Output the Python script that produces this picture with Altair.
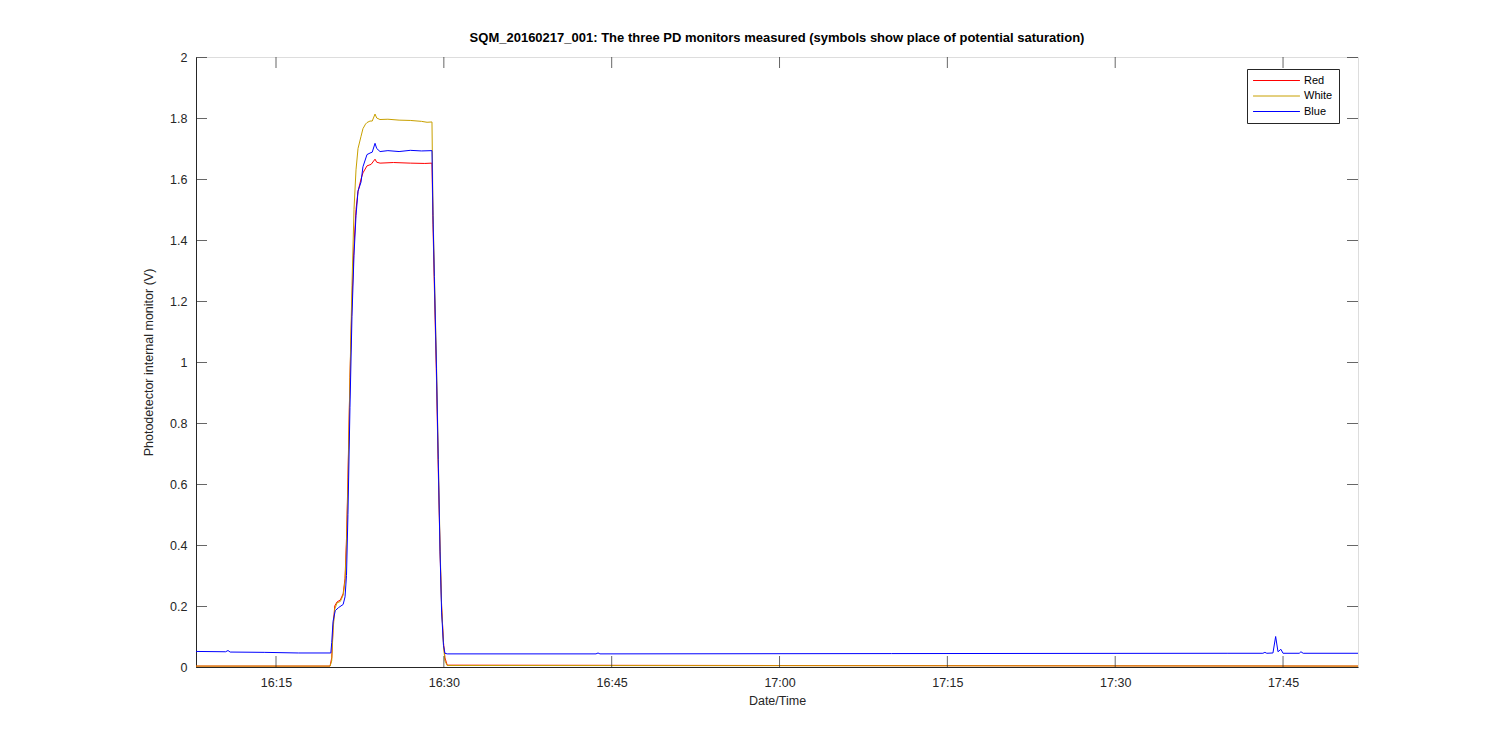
import altair as alt
import pandas as pd

# minutes after 16:00 on 2016-02-17, and readings (V)
red_t = [7.85, 19.83, 19.98, 20.10, 20.25, 20.45, 20.75, 21.00, 21.17, 21.30, 21.43, 21.61, 21.79,
         21.97, 22.15, 22.33, 22.60, 22.77, 23.13, 23.50, 23.85, 24.00, 24.30, 25.50, 27.00, 28.30,
         28.94, 29.03, 29.15, 29.34, 29.50, 29.66, 29.80, 29.97, 30.10, 30.30, 111.70]
red_v = [0.003, 0.003, 0.03, 0.13, 0.20, 0.213, 0.22, 0.24, 0.29, 0.42, 0.62, 0.95, 1.20,
         1.38, 1.50, 1.56, 1.60, 1.62, 1.643, 1.648, 1.665, 1.655, 1.652, 1.654, 1.652, 1.651,
         1.652, 1.45, 1.25, 0.95, 0.65, 0.38, 0.20, 0.08, 0.03, 0.006, 0.003]

white_t = [7.85, 19.83, 19.98, 20.10, 20.25, 20.45, 20.75, 21.00, 21.17, 21.30, 21.43, 21.61, 21.79,
           21.97, 22.15, 22.33, 22.60, 22.77, 23.00, 23.13, 23.40, 23.60, 23.85, 24.00, 24.29, 25.00,
           26.00, 27.00, 28.00, 28.50, 28.94, 29.03, 29.15, 29.34, 29.50, 29.66, 29.80, 29.97, 30.10,
           30.30, 111.70]
white_v = [0.003, 0.003, 0.02, 0.12, 0.19, 0.21, 0.215, 0.235, 0.28, 0.40, 0.60, 0.95, 1.25,
           1.50, 1.63, 1.70, 1.74, 1.765, 1.78, 1.785, 1.79, 1.79, 1.813, 1.80, 1.795, 1.796,
           1.793, 1.792, 1.789, 1.786, 1.787, 1.50, 1.30, 1.00, 0.70, 0.40, 0.20, 0.07, 0.02,
           0.005, 0.003]

blue_t = [7.85, 10.50, 10.71, 10.90, 14.00, 17.00, 19.90, 19.98, 20.10, 20.30, 20.60, 21.00, 21.17,
          21.30, 21.43, 21.61, 21.79, 21.97, 22.15, 22.33, 22.60, 22.77, 23.13, 23.40, 23.60, 23.85,
          24.00, 24.30, 25.00, 26.00, 27.00, 28.00, 28.94, 29.03, 29.15, 29.34, 29.50, 29.66, 29.80,
          29.97, 30.10, 30.30, 43.60, 43.78, 43.95, 70.00, 100.00, 103.20, 103.38, 103.55, 104.10,
          104.34, 104.55, 104.81, 105.00, 106.45, 106.60, 106.80, 111.70]
blue_v = [0.051, 0.050, 0.054, 0.049, 0.048, 0.046, 0.046, 0.08, 0.15, 0.185, 0.195, 0.205, 0.23,
          0.30, 0.50, 0.85, 1.15, 1.35, 1.48, 1.56, 1.59, 1.64, 1.68, 1.685, 1.688, 1.717,
          1.70, 1.69, 1.693, 1.69, 1.694, 1.692, 1.693, 1.48, 1.28, 0.98, 0.68, 0.38, 0.18,
          0.07, 0.045, 0.043, 0.043, 0.046, 0.043, 0.044, 0.045, 0.045, 0.048, 0.045, 0.046,
          0.10, 0.05, 0.058, 0.045, 0.045, 0.05, 0.045, 0.045]

series = ["Red", "White", "Blue"]
colors = ["#FF0000", "#C8A000", "#0000FF"]

x_tick_minutes = [15, 30, 45, 60, 75, 90, 105]
y_ticks = [0, 0.2, 0.4, 0.6, 0.8, 1.0, 1.2, 1.4, 1.6, 1.8, 2.0]

base = pd.Timestamp("2016-02-17 16:00:00")


def to_time(mins):
    return [(base + pd.Timedelta(minutes=m)).strftime("%Y-%m-%dT%H:%M:%S.%f")[:-3] for m in mins]


frames = []
for i, (name, t, v) in enumerate(zip(series, [red_t, white_t, blue_t], [red_v, white_v, blue_v])):
    frames.append(pd.DataFrame({"time": to_time(t), "value": v, "series": name, "order": i}))
df = pd.concat(frames, ignore_index=True)

xt = pd.DataFrame({"time": to_time(x_tick_minutes)})
yt = pd.DataFrame({"value": y_ticks})

W, H = 1162, 610
FONT = "Liberation Sans"
AX = "#262626"

x_scale = alt.Scale(domain=[alt.DateTime(year=2016, month=2, date=17, hours=16, minutes=7, seconds=51),
                            alt.DateTime(year=2016, month=2, date=17, hours=17, minutes=51, seconds=42)],
                    nice=False)
y_scale = alt.Scale(domain=[0, 2], nice=False)

axis_common = dict(ticks=False, grid=False, labelPadding=9, domainColor=AX,
                   labelFont=FONT, labelFontSize=12.5, labelColor=AX,
                   titleFont=FONT, titleFontSize=12.5, titleColor=AX, titleFontWeight="normal")

lines = alt.Chart(df).mark_line(strokeWidth=1, clip=True).encode(
    x=alt.X("time:T", scale=x_scale, title="Date/Time",
            axis=alt.Axis(values=[alt.DateTime(year=2016, month=2, date=17, hours=16 + m // 60, minutes=m % 60)
                                  for m in x_tick_minutes],
                          format="%H:%M", titlePadding=6, **axis_common)),
    y=alt.Y("value:Q", scale=y_scale, title="Photodetector internal monitor (V)",
            axis=alt.Axis(values=y_ticks, format="~g", titlePadding=14, **axis_common)),
    color=alt.Color("series:N", scale=alt.Scale(domain=series, range=colors),
                    legend=alt.Legend(title=None, orient="none", legendX=1051, legendY=12,
                                      symbolType="M-5,0H5", symbolSize=88, symbolStrokeWidth=1,
                                      symbolOffset=18, labelOffset=22,
                                      fillColor="white", strokeColor=AX, padding=6,
                                      labelFontSize=11, labelFont=FONT, labelColor="black",
                                      rowPadding=3.5)),
    order=alt.Order("order:Q"),
    detail="series:N",
)

tick_props = dict(color=AX, thickness=1, size=11)
xb = alt.Chart(xt).mark_tick(orient="vertical", **tick_props).encode(
    x=alt.X("time:T", scale=x_scale), y=alt.value(H - 5.5))
xtop = alt.Chart(xt).mark_tick(orient="vertical", **tick_props).encode(
    x=alt.X("time:T", scale=x_scale), y=alt.value(5.5))
yl = alt.Chart(yt).mark_tick(orient="horizontal", yOffset=0.5, **tick_props).encode(
    y=alt.Y("value:Q", scale=y_scale), x=alt.value(5.5))
yr = alt.Chart(yt).mark_tick(orient="horizontal", yOffset=0.5, **tick_props).encode(
    y=alt.Y("value:Q", scale=y_scale), x=alt.value(W - 5.5))

chart = alt.layer(lines, xb, xtop, yl, yr).properties(
    width=W, height=H,
    title=alt.TitleParams("SQM_20160217_001: The three PD monitors measured (symbols show place of potential saturation)",
                          fontSize=13, fontWeight="bold", font=FONT, color="black", offset=6, anchor="middle"),
    autosize=alt.AutoSizeParams(type="none"),
    padding={"left": 188, "top": 49, "right": 120, "bottom": 60},
).configure_view(stroke=AX, strokeWidth=1).configure(background="white")

chart.save("out.html", embed_options={"renderer": "svg", "actions": False})
